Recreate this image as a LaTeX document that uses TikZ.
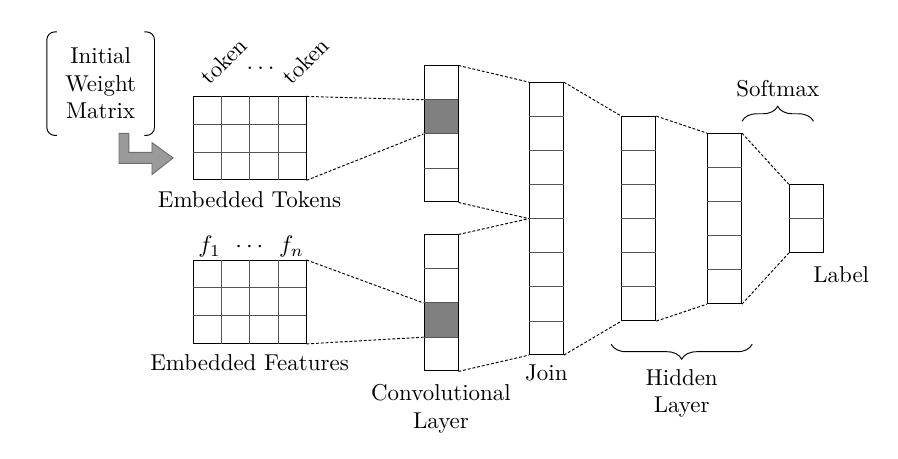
\documentclass[tikz,border=0pt]{standalone}
\usepackage{tikz}
\usetikzlibrary{positioning,arrows.meta,calc,backgrounds,decorations.pathreplacing}
\definecolor{palShade}{HTML}{808080}
\definecolor{palArrow}{HTML}{9A9A9A}
\definecolor{palArrowEdge}{HTML}{6E6E6E}
\definecolor{palGrid}{HTML}{555555}
\tikzset{
  lbltext/.style={font=\fontsize{9.6}{11.5}\selectfont, inner sep=1pt, align=center},
  gridbox/.style={draw, thin, minimum width=1.66cm, minimum height=1.22cm,
                  inner sep=0pt},
  colbox/.style={draw, thin, minimum width=0.5cm, inner sep=0pt},
  cellline/.style={thin, draw=palGrid},
  linkline/.style={thin, dash pattern=on 1.2pt off 0.8pt},
  shadecell/.style={fill=palShade},
  bracket/.style={thin, rounded corners=0.12cm},
  blockarrow/.style={fill=palArrow, draw=palArrowEdge, thin},
  braceup/.style={thin, decorate, decoration={brace, amplitude=0.22cm}},
  bracedown/.style={thin, decorate, decoration={brace, mirror, amplitude=0.22cm}},
}

\begin{document}
\begin{tikzpicture}[x=0.5cm, y=-0.5cm]
\useasboundingbox (0,0) rectangle (26.412,13.471);

%% Inputs
\node[lbltext, minimum width=1.57cm, minimum height=1.51cm] (iwm) at (2.96,2.46) {Initial\\Weight\\Matrix};
\draw[bracket] ([xshift=0.15cm]iwm.north west) -- (iwm.north west) -- (iwm.south west) -- ([xshift=0.15cm]iwm.south west);
\draw[bracket] ([xshift=-0.15cm]iwm.north east) -- (iwm.north east) -- (iwm.south east) -- ([xshift=-0.15cm]iwm.south east);

\node[gridbox] (tok) at (7.34,4.07) {};
\node[gridbox] (feat) at (7.34,8.88) {};
\foreach \g in {tok,feat} {
  \foreach \i in {1,2,3}
    \draw[cellline] ($(\g.north west)!\i/4!(\g.north east)$) -- ($(\g.south west)!\i/4!(\g.south east)$);
  \foreach \i in {1,2}
    \draw[cellline] ($(\g.north west)!\i/3!(\g.south west)$) -- ($(\g.north east)!\i/3!(\g.south east)$);
}
\draw[blockarrow] ($(iwm.south)+(0.54,-0.06)$) -- ++(0.29,0) -- ++(0,0.56) -- ++(0.68,0) -- ++(0,-0.29)
  -- ++(0.62,0.45) -- ++(-0.62,0.49) -- ++(0,-0.33) -- ++(-0.97,0) -- cycle;

\node[lbltext, rotate=45, anchor=base west] (tokA) at ($(tok.north west)+(0.45,-0.25)$) {token};
\node[lbltext, rotate=45, anchor=base west] (tokB) at ($(tok.north west)+(2.86,-0.25)$) {token};
\node[lbltext, anchor=base] (tokdots) at ($(tok.north west)+(2.0,-0.8)$) {$\ldots$};
\node[lbltext] (featA) at ($(feat.north west)+(0.5,-0.39)$) {$f_1$};
\node[lbltext] (featdots) at ($(feat.north west)+(1.67,-0.39)$) {$\cdots$};
\node[lbltext] (featB) at ($(feat.north west)+(2.91,-0.39)$) {$f_n$};
\node[lbltext, below=0.12cm of tok] (tokname) {Embedded Tokens};
\node[lbltext, below=0.12cm of feat] (featname) {Embedded Features};

%% Layers
\node[colbox, minimum height=2cm] (convA) at (12.97,3.94) {};
\node[colbox, minimum height=2cm] (convB) at (12.97,8.91) {};
\node[colbox, minimum height=4cm] (join) at (16.07,6.43) {};
\node[colbox, minimum height=3cm] (hidA) at (18.79,6.43) {};
\node[colbox, minimum height=2.5cm] (hidB) at (21.31,6.43) {};
\node[colbox, minimum height=1cm] (lbl) at (23.71,6.43) {};
\foreach \col/\n in {convA/4, convB/4, join/8, hidA/6, hidB/5, lbl/2} {
  \pgfmathtruncatemacro{\m}{\n-1}
  \foreach \i in {1,...,\m} {
    \coordinate (\col-\i) at ($(\col.north west)!\i/\n!(\col.south west)$);
    \draw[cellline] (\col-\i) -- ($(\col.north east)!\i/\n!(\col.south east)$);
  }
}
\begin{scope}[on background layer]
  \fill[shadecell] (convA-1) rectangle ($(convA-2)+(1,0)$);
  \fill[shadecell] (convB-2) rectangle ($(convB-3)+(1,0)$);
\end{scope}

\node[lbltext, below=0.15cm of convB] (convname) {Convolutional\\Layer};
\node[lbltext, below=0.1cm of join] (joinname) {Join};
\node[lbltext, anchor=north west] (lblname) at ($(lbl.south west)+(0.64,0.3)$) {Label};
\draw[bracedown] ($(hidA.south west)+(-0.3,0.68)$) -- ($(hidA.south west -| hidB.east)+(0.3,0.68)$)
  node[midway, below=0.33cm, lbltext] (hidname) {Hidden\\Layer};
\draw[braceup] ($(hidB.north east)+(0,-0.35)$) -- ($(hidB.north east -| lbl.east)+(-0.3,-0.35)$)
  node[midway, above=0.32cm, lbltext] (smxname) {Softmax};

%% Dashed links
\draw[linkline] (tok.north east) -- (convA-1);
\draw[linkline] (tok.south east) -- (convA-2);
\draw[linkline] (feat.north east) -- (convB-2);
\draw[linkline] (feat.south east) -- (convB-3);
\draw[linkline] (convA.north east) -- (join.north west);
\draw[linkline] (convA.south east) -- (join.west);
\draw[linkline] (convB.north east) -- (join.west);
\draw[linkline] (convB.south east) -- (join.south west);
\draw[linkline] (join.north east) -- (hidA.north west);
\draw[linkline] (join.south east) -- (hidA.south west);
\draw[linkline] (hidA.north east) -- (hidB.north west);
\draw[linkline] (hidA.south east) -- (hidB.south west);
\draw[linkline] (hidB.north east) -- (lbl.north west);
\draw[linkline] (hidB.south east) -- (lbl.south west);
\end{tikzpicture}
\end{document}
